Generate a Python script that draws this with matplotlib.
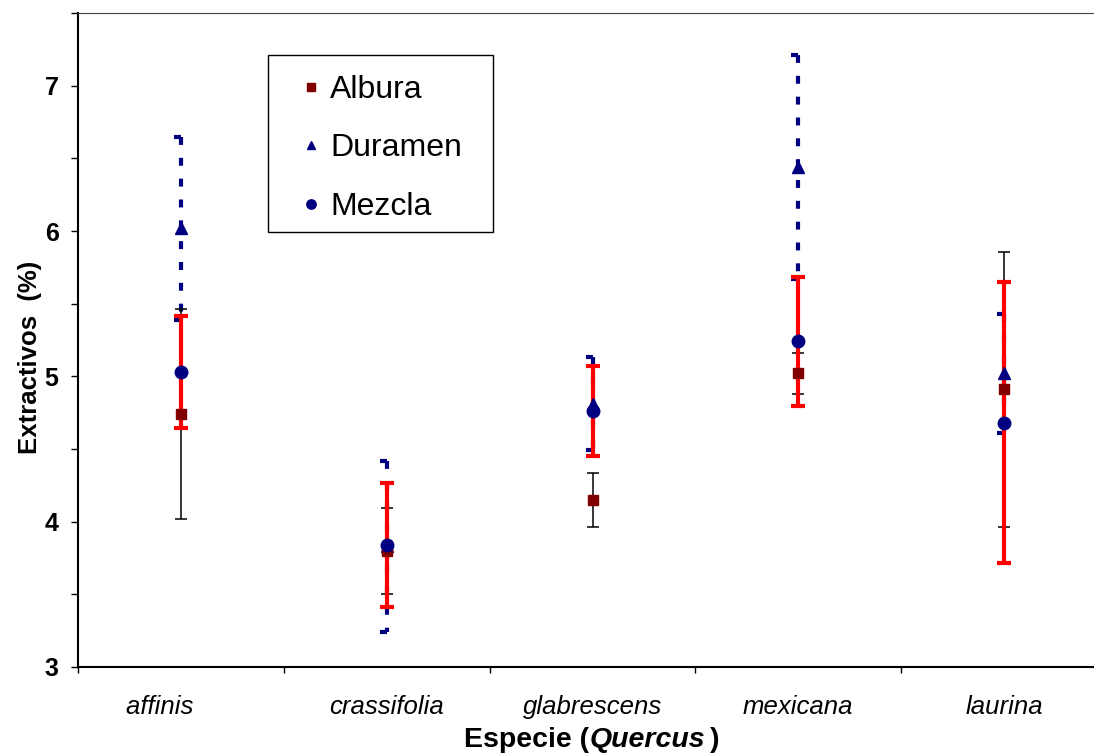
import matplotlib
matplotlib.use('Agg')
import matplotlib.pyplot as plt
import numpy as np
from matplotlib.path import Path
from matplotlib.patches import Rectangle
from matplotlib.ticker import FixedLocator, NullFormatter

plt.rcParams['font.family'] = ['Liberation Sans', 'DejaVu Sans']

# Data
species = ['affinis', 'crassifolia', 'glabrescens', 'mexicana', 'laurina']
albura = [4.74, 3.80, 4.15, 5.02, 4.91]
albura_err = [0.725, 0.296, 0.187, 0.143, 0.945]
duramen = [6.02, 3.83, 4.81, 6.44, 5.02]
duramen_err = [0.63, 0.59, 0.32, 0.77, 0.41]
mezcla = [5.03, 3.84, 4.76, 5.24, 4.68]
mezcla_err = [0.386, 0.425, 0.31, 0.442, 0.967]

W, H = 1094, 755
fig = plt.figure(figsize=(W / 100, H / 100), dpi=100)
ax = fig.add_axes([78 / W, 88 / H, 1029 / W, 654 / H])

x = np.arange(len(species))
navy = '#000080'
maroon = '#800000'

# Duramen error bars: dashed navy, half caps
dur = np.array(duramen)
dur_e = np.array(duramen_err)
ax.vlines(x, dur + dur_e, dur - dur_e, colors=navy, linewidth=3,
          linestyles=[(0, (1.9, 3.1))], zorder=2)
half_cap = Path([(-1, 0), (0, 0)])
ax.plot(x, dur + dur_e, ls='none', marker=half_cap, markersize=10,
        markeredgewidth=3, color=navy, zorder=2)
ax.plot(x, dur - dur_e, ls='none', marker=half_cap, markersize=10,
        markeredgewidth=3, color=navy, zorder=2)

# Albura error bars: thin black
ax.errorbar(x, albura, yerr=albura_err, fmt='none', ecolor='black',
            elinewidth=1.1, capsize=4, capthick=1.1, zorder=3)

# Mezcla error bars: thick red
ax.errorbar(x, mezcla, yerr=mezcla_err, fmt='none', ecolor='#ff0000',
            elinewidth=3, capsize=4.8, capthick=3, zorder=4)

# Markers
ax.plot(x, duramen, ls='none', marker='^', markersize=8, color=navy,
        label='Duramen', zorder=5)
ax.plot(x, albura, ls='none', marker='s', markersize=7.5, color=maroon,
        label='Albura', zorder=6)
ax.plot(x, mezcla, ls='none', marker='o', markersize=9, color=navy,
        label='Mezcla', zorder=7)

ax.set_xlim(-0.5, 4.5)
ax.set_ylim(3, 7.5)

# Axes styling
ax.spines['right'].set_visible(False)
ax.spines['left'].set_linewidth(1.5)
ax.spines['bottom'].set_linewidth(1.5)
ax.spines['top'].set_linewidth(0.8)
ax.spines['top'].set_color('#444444')

ax.set_yticks([3, 4, 5, 6, 7])
ax.set_yticklabels(['3', '4', '5', '6', '7'], fontsize=18, fontweight='bold')
ax.yaxis.set_minor_locator(FixedLocator([3.5, 4.5, 5.5, 6.5, 7.5]))
ax.tick_params(axis='y', which='both', direction='out', length=5, width=1, pad=9)

# first label sits left of its category in the original
tick_labels = [species[0] + '      '] + species[1:]
ax.set_xticks(x)
ax.set_xticklabels(tick_labels, fontsize=18.5, style='italic')
ax.xaxis.set_minor_locator(FixedLocator([-0.5, 0.5, 1.5, 2.5, 3.5, 4.0]))
ax.xaxis.set_minor_formatter(NullFormatter())
ax.tick_params(axis='x', which='major', length=0, pad=20)
ax.tick_params(axis='x', which='minor', direction='out', length=4.5, width=1)

# Axis labels
fig.text(30 / W, 1 - 357 / H, 'Extractivos  (%)', rotation=90, fontsize=18.5,
         fontweight='bold', ha='center', va='center')

fig.canvas.draw()
r = fig.canvas.get_renderer()
parts = [('Especie (', 'normal', 0), ('Quercus', 'italic', 0), (')', 'normal', 5)]
texts = [fig.text(0, 0, s, fontsize=20.5, fontweight='bold', style=st,
                  va='baseline', ha='left') for s, st, g in parts]
widths = [t.get_window_extent(r).width + g for t, (s, st, g) in zip(texts, parts)]
x0 = 592 - sum(widths) / 2
for t, w, (s, st, g) in zip(texts, widths, parts):
    t.set_position(((x0 + g) / W, 1 - 747 / H))
    x0 += w

# Legend box and entries
box = Rectangle((268 / W, 1 - 232 / H), 225 / W, 177 / H,
                transform=fig.transFigure, facecolor='white',
                edgecolor='black', linewidth=1, zorder=8, clip_on=False)
ax.add_patch(box)
h, l = ax.get_legend_handles_labels()
order = [1, 0, 2]
leg = ax.legend([h[i] for i in order], [l[i] for i in order],
                loc='upper left', bbox_to_anchor=(278 / W, 1 - 58 / H),
                bbox_transform=fig.transFigure, borderaxespad=0,
                fontsize=23, markerscale=0.75, handlelength=1.0,
                handletextpad=0.1, borderpad=0.53, labelspacing=0.89,
                frameon=False)
leg.set_zorder(9)

fig.savefig('out.png', dpi=100)
